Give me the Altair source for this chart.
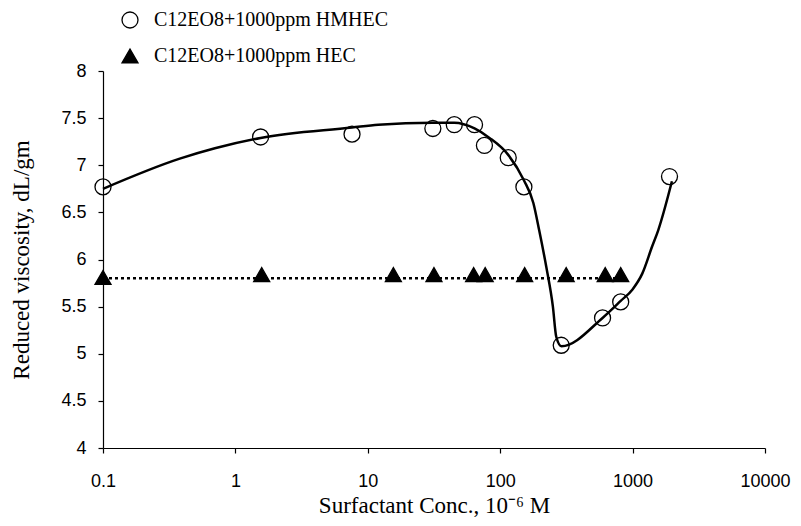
import altair as alt
import pandas as pd

# HMHEC measured points
hmhec_x = [0.1, 1.55, 7.6, 31, 45, 64, 76, 115, 151, 289, 593, 813, 1900]
hmhec_y = [6.77, 7.30, 7.33, 7.39, 7.43, 7.43, 7.21, 7.08, 6.77, 5.09, 5.38, 5.55, 6.88]

# HEC measured points
hec_x = [0.1, 1.58, 15.6, 31.6, 63, 77, 153, 315, 621, 813]
hec_y = [5.81, 5.84, 5.84, 5.84, 5.84, 5.84, 5.84, 5.84, 5.84, 5.84]

# smooth fitted curve through HMHEC
curve_x = [0.1, 0.38, 0.7, 1.55, 7.6, 12, 31, 45, 64, 83, 115, 151, 178, 197, 223, 250, 265, 290,
           593, 813, 995, 1183, 1406, 1561, 1982]
curve_y = [6.75, 7.07, 7.18, 7.29, 7.40, 7.43, 7.45, 7.45, 7.39, 7.29, 7.11, 6.84, 6.60, 6.31, 5.92,
           5.50, 5.18, 5.08, 5.38, 5.56, 5.68, 5.85, 6.14, 6.31, 6.83]

# dotted HEC trend line
hec_line_x = [0.1, 850]
hec_line_y = [5.80, 5.80]

series_names = ["C12EO8+1000ppm HMHEC", "C12EO8+1000ppm HEC"]
x_ticks = [0.1, 1, 10, 100, 1000, 10000]
y_ticks = [4, 4.5, 5, 5.5, 6, 6.5, 7, 7.5, 8]

points = pd.DataFrame({
    "x": hmhec_x + hec_x,
    "y": hmhec_y + hec_y,
    "series": [series_names[0]] * len(hmhec_x) + [series_names[1]] * len(hec_x),
})
curve = pd.DataFrame({"x": curve_x, "y": curve_y})
hec_line = pd.DataFrame({"x": hec_line_x, "y": hec_line_y})

xscale = alt.Scale(type="log", domain=[0.1, 10000])
yscale = alt.Scale(domain=[4, 8], nice=False, zero=False)

xaxis = alt.Axis(values=x_ticks, format="~g", title="Surfactant Conc., 10⁻⁶ M",
                 grid=False, tickSize=5, labelPadding=19, titleY=64,
                 titleBaseline="alphabetic", labelFlush=False)
yaxis = alt.Axis(values=y_ticks, format="~g", title="Reduced viscosity, dL/gm",
                 grid=False, tickSize=5, labelPadding=12, titleX=-70)

curve_layer = alt.Chart(curve).mark_line(
    interpolate="monotone", color="black", strokeWidth=2.5
).encode(
    x=alt.X("x:Q", scale=xscale, axis=xaxis),
    y=alt.Y("y:Q", scale=yscale, axis=yaxis),
)

hec_line_layer = alt.Chart(hec_line).mark_line(
    color="black", strokeWidth=2.5, strokeDash=[3, 3]
).encode(
    x=alt.X("x:Q", scale=xscale),
    y=alt.Y("y:Q", scale=yscale),
)

legend = alt.Legend(
    orient="none", legendX=17, legendY=-61, title=None,
    labelFont="Liberation Serif", labelFontSize=20, labelColor="black", labelLimit=0,
    symbolSize=256, symbolStrokeWidth=1.3,
    labelOffset=14, rowPadding=15,
)

point_layer = alt.Chart(points).mark_point(
    filled=True, opacity=1, strokeWidth=1.3, size=256
).encode(
    x=alt.X("x:Q", scale=xscale),
    y=alt.Y("y:Q", scale=yscale),
    shape=alt.Shape("series:N", scale=alt.Scale(domain=series_names,
                                                range=["circle", "triangle-up"]),
                    legend=legend),
    fill=alt.Fill("series:N", scale=alt.Scale(domain=series_names,
                                              range=["transparent", "black"]),
                  legend=legend),
    stroke=alt.Stroke("series:N", scale=alt.Scale(domain=series_names,
                                                  range=["black", "black"]),
                      legend=legend),
)

chart = alt.layer(curve_layer, hec_line_layer, point_layer).properties(
    width=662, height=377,
    autosize=alt.AutoSizeParams(type="none"),
    padding={"left": 95, "top": 63, "right": 26, "bottom": 70},
).configure_view(
    stroke=None
).configure_axis(
    domainColor="black", tickColor="black", labelColor="black", titleColor="black",
    labelFont="Liberation Sans", labelFontSize=18,
    titleFont="Liberation Serif", titleFontSize=23, titleFontWeight="normal",
    domainWidth=1.2, tickWidth=1.2,
)

chart.save("out.html", embed_options={"renderer": "svg", "actions": False})
